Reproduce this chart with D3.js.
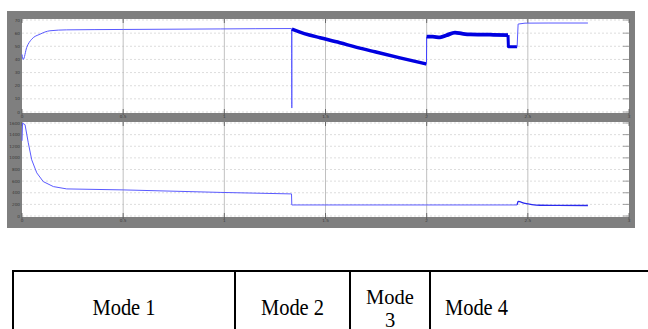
<!DOCTYPE html>
<html>
<head>
<meta charset="utf-8">
<script src="https://cdn.jsdelivr.net/npm/d3@7/dist/d3.min.js"></script>
<style>
  html, body { margin: 0; padding: 0; background: #fff; }
  svg { display: block; }
  .mode-label { font-family: "Times New Roman", Times, "Liberation Serif", "DejaVu Serif", "Noto Serif", serif; font-size: 20.5px; fill: #000; }
  .tick-label { font-family: "DejaVu Sans", sans-serif; font-size: 4.2px; fill: #3a3a3a; }
</style>
</head>
<body>
<svg id="chart" width="648" height="329"></svg>
<script>
// Shared time axis (s)
const timeTicks = [0, 0.5, 1, 1.5, 2, 2.5, 3];
const timeTickLabels = ["0", "0.5", "1", "1.5", "2", "2.5", "3"];

// Upper scope: speed
const speedTicks = [0, 10, 20, 30, 40, 50, 60, 70];
// Mode 1 start-up, ending in the switching spike
const speedMode1T = [0, 0.006, 0.023, 0.048, 0.089, 0.138, 0.221, 0.5, 0.98, 1.332, 1.3335, 1.334];
const speedMode1V = [43.8, 40, 49, 55.4, 59.2, 61.8, 62.5, 62.8, 63.2, 63.5, 3, 63.1];
// Mode 2 decay (ripple band)
const speedMode2T = [1.334, 1.374, 1.42, 1.473, 1.571, 1.65, 1.744, 1.868, 1.999];
const speedMode2V = [63.1, 60.8, 58.6, 56.5, 52.7, 49.4, 45.8, 41.2, 36.5];
// Mode 3 (ripple band)
const speedMode3T = [1.999, 2.0, 2.03, 2.066, 2.1, 2.14, 2.175, 2.214, 2.313, 2.402, 2.404, 2.447];
const speedMode3V = [36.5, 57.3, 57.3, 56.8, 58.5, 60.4, 59.6, 59.0, 58.8, 58.5, 49.6, 49.6];
// Mode 4
const speedMode4T = [2.447, 2.452, 2.486, 2.6, 2.797];
const speedMode4V = [49.6, 66.9, 67.6, 67.7, 67.7];

// Lower scope: torque
const torqueTicks = [0, 200, 400, 600, 800, 1000, 1200, 1400, 1600];
const torqueT = [0, 0.0025, 0.015, 0.031, 0.048, 0.073, 0.105, 0.155, 0.221, 0.5, 0.979, 1.332, 1.3335, 2.0, 2.447];
const torqueV = [1294, 1597, 1571, 1260, 967, 742, 592, 506, 466, 449, 406, 380, 190, 190, 190];
const torqueEndT = [2.447, 2.452, 2.486, 2.52, 2.56, 2.65, 2.797];
const torqueEndV = [190, 250, 216, 196, 185, 182, 181];

const svg = d3.select("#chart");

// Scope window frame
const frame = { x0: 7, y0: 11, x1: 635, y1: 228 };
svg.append("rect")
  .attr("x", frame.x0).attr("y", frame.y0)
  .attr("width", frame.x1 - frame.x0).attr("height", frame.y1 - frame.y0)
  .attr("fill", "#7f7f7f");

const x = d3.scaleLinear().domain([0, 3]).range([22, 629]);

const panels = [
  { top: 20, bottom: 112, ticks: speedTicks },
  { top: 123, bottom: 216, ticks: torqueTicks }
];

panels.forEach(p => {
  p.y = d3.scaleLinear()
    .domain([p.ticks[0], p.ticks[p.ticks.length - 1]])
    .range([p.bottom, p.top]);
  const g = svg.append("g");
  g.append("rect")
    .attr("x", x.range()[0]).attr("y", p.top - 1)
    .attr("width", x.range()[1] - x.range()[0]).attr("height", p.bottom - p.top + 2)
    .attr("fill", "#ffffff");

  // horizontal dotted grid
  g.selectAll(".hg").data(p.ticks).join("line")
    .attr("x1", x.range()[0]).attr("x2", x.range()[1])
    .attr("y1", d => p.y(d)).attr("y2", d => p.y(d))
    .attr("stroke", "#d4d4d4").attr("stroke-width", 0.8)
    .attr("stroke-dasharray", "2,2");

  // vertical grid
  g.selectAll(".vg").data(timeTicks.slice(1, -1)).join("line")
    .attr("x1", d => x(d)).attr("x2", d => x(d))
    .attr("y1", p.top - 1).attr("y2", p.bottom + 1)
    .attr("stroke", "#b0b0b0").attr("stroke-width", 0.8);

  // inner tick marks
  const tickCol = "#555";
  g.selectAll(".tt").data(timeTicks).join("line")
    .attr("x1", d => x(d)).attr("x2", d => x(d))
    .attr("y1", p.top - 1).attr("y2", p.top + 3)
    .attr("stroke", tickCol).attr("stroke-width", 0.8);
  g.selectAll(".tb").data(timeTicks).join("line")
    .attr("x1", d => x(d)).attr("x2", d => x(d))
    .attr("y1", p.bottom - 3).attr("y2", p.bottom + 3)
    .attr("stroke", tickCol).attr("stroke-width", 0.8);
  g.selectAll(".tr").data(p.ticks).join("line")
    .attr("x1", x.range()[1] - 6).attr("x2", x.range()[1])
    .attr("y1", d => p.y(d)).attr("y2", d => p.y(d))
    .attr("stroke", "#888").attr("stroke-width", 0.8);

  // y tick labels
  g.selectAll(".yl").data(p.ticks).join("text")
    .attr("class", "tick-label")
    .attr("x", x.range()[0] - 2).attr("y", d => p.y(d) + 1.5)
    .attr("text-anchor", "end")
    .text(d => d);

  // x tick labels
  g.selectAll(".xl").data(timeTicks).join("text")
    .attr("class", "tick-label")
    .attr("x", d => x(d)).attr("y", p.bottom + 6)
    .attr("text-anchor", "middle")
    .text((d, i) => timeTickLabels[i]);
});

const yS = panels[0].y, yT = panels[1].y;

function drawTrace(ts, vs, yScale, color, width, curve) {
  const pts = ts.map((t, i) => [t, vs[i]]);
  svg.append("path")
    .datum(pts)
    .attr("d", d3.line().x(d => x(d[0])).y(d => yScale(d[1])).curve(curve))
    .attr("fill", "none")
    .attr("stroke", color)
    .attr("stroke-width", width)
    .attr("stroke-linejoin", "round");
}

// speed traces
drawTrace(speedMode1T, speedMode1V, yS, "#5a5aff", 1, d3.curveMonotoneX);
drawTrace(speedMode2T, speedMode2V, yS, "#0000e0", 3.5, d3.curveMonotoneX);
drawTrace(speedMode3T.slice(0, 2), speedMode3V.slice(0, 2), yS, "#4040ff", 1, d3.curveLinear);
drawTrace(speedMode3T.slice(1, 10), speedMode3V.slice(1, 10), yS, "#0000e0", 3.8, d3.curveMonotoneX);
drawTrace(speedMode3T.slice(9, 12), speedMode3V.slice(9, 12), yS, "#0000e0", 3, d3.curveLinear);
drawTrace(speedMode4T, speedMode4V, yS, "#5a5aff", 1, d3.curveLinear);

// torque traces
drawTrace(torqueT, torqueV, yT, "#5a5aff", 1, d3.curveLinear);
drawTrace(torqueEndT, torqueEndV, yT, "#2a2aee", 1.3, d3.curveMonotoneX);

// Operating-mode table
const modeNames = ["Mode 1", "Mode 2", "Mode\n3", "Mode 4"];
const modeEdges = [13, 235, 350, 430, 523];
const tableTop = 271;
const tbl = svg.append("g");
tbl.append("line")
  .attr("x1", modeEdges[0] - 1).attr("x2", 648)
  .attr("y1", tableTop).attr("y2", tableTop)
  .attr("stroke", "#000").attr("stroke-width", 2);
tbl.selectAll(".cb").data(modeEdges.slice(0, 4)).join("line")
  .attr("x1", d => d).attr("x2", d => d)
  .attr("y1", tableTop).attr("y2", 329)
  .attr("stroke", "#000").attr("stroke-width", 2);

modeNames.forEach((name, i) => {
  const cx = (modeEdges[i] + modeEdges[i + 1]) / 2;
  const lines = name.split("\n");
  const t = tbl.append("text")
    .attr("class", "mode-label")
    .attr("text-anchor", "middle");
  if (lines.length === 1) {
    t.attr("transform", `translate(${cx},315) scale(1,1.1)`).text(name);
  } else {
    lines.forEach((ln, j) => {
      t.append("tspan").attr("x", cx).attr("y", 304 + j * 22.5).text(ln);
    });
  }
});
</script>
</body>
</html>
